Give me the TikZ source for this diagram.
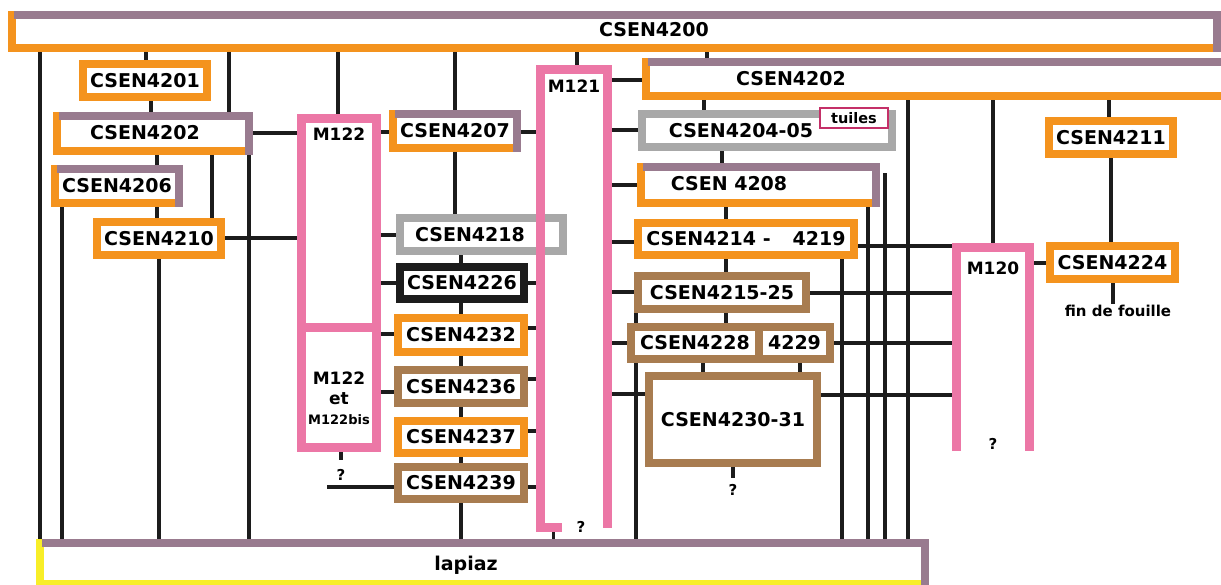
\documentclass[tikz,border=0pt]{standalone}
\usepackage{fontspec}
\setmainfont{DejaVu Sans}
\usepackage{tikz}
\usetikzlibrary{backgrounds}
\definecolor{csorange}{RGB}{244,147,30}
\definecolor{csmauve}{RGB}{153,123,143}
\definecolor{cspink}{RGB}{236,119,166}
\definecolor{csgrey}{RGB}{168,168,168}
\definecolor{csbrown}{RGB}{168,124,80}
\definecolor{csblack}{RGB}{28,28,28}
\definecolor{cscrimson}{RGB}{196,48,104}
\definecolor{csyellow}{RGB}{248,238,40}
\newcommand{\boxfont}{\fontsize{19}{22}\selectfont\bfseries}
\newcommand{\mfont}{\fontsize{17}{20}\selectfont\bfseries}
\newcommand{\qfont}{\fontsize{15}{18}\selectfont\bfseries}
% mauve top and right edge over a framed box
\newcommand{\mauveedge}[1]{\draw[csmauve, line width=8pt] ([xshift=2pt]#1.north west) -- (#1.north east) -- ([yshift=-4pt]#1.south east);}
\tikzset{
  csbox/.style={draw, line width=8pt, fill=white, inner sep=0pt, outer sep=0pt, font=\boxfont},
  orangebox/.style={csbox, draw=csorange},
  brownbox/.style={csbox, draw=csbrown},
  greybox/.style={csbox, draw=csgrey},
  blackbox/.style={csbox, draw=csblack},
  pinkbox/.style={csbox, draw=cspink, line width=9pt},
  boxsize/.style 2 args={minimum width=#1pt, minimum height=#2pt},
  link/.style={csblack, line width=3.5pt},
  pinkline/.style={cspink, line width=9pt},
  mlabel/.style={font=\mfont, inner sep=1pt},
  qlabel/.style={font=\qfont, inner sep=1pt},
}

\begin{document}
\begin{tikzpicture}[x=1pt, y=-1pt]
  \useasboundingbox (0,0) rectangle (1221,584);

  % Top and bottom layers
  \node[orangebox, boxsize={1205}{33}] (b4200) at (614.5,31.5) {};
  \node[csbox, draw=csyellow, boxsize={885}{41}] (lapiaz) at (482.5,563.5) {};

  % Left column
  \node[orangebox, boxsize={124}{33}] (b4201) at (145,80.5) {CSEN4201};
  \node[orangebox, boxsize={192}{35}] (b4202a) at (153,133.5) {};
  \node[orangebox, boxsize={124}{34}] (b4206) at (117,186) {CSEN4206};
  \node[orangebox, boxsize={124}{33}] (b4210) at (159,238.5) {CSEN4210};

  % M122
  \node[pinkbox, boxsize={75}{208.5}] (m122) at (339,222.75) {};
  \node[pinkbox, boxsize={75}{120.5}] (m122b) at (339,387.25) {};

  % Middle column
  \node[orangebox, boxsize={124}{34}] (b4207) at (455,131) {CSEN4207};
  \node[greybox, boxsize={163}{33}] (b4218) at (481.5,234.5) {};
  \node[blackbox, boxsize={124}{32}] (b4226) at (462,283) {CSEN4226};
  \node[orangebox, boxsize={126}{34}] (b4232) at (461,335) {CSEN4232};
  \node[brownbox, boxsize={126}{33}] (b4236) at (461,386.5) {CSEN4236};
  \node[orangebox, boxsize={126}{32}] (b4237) at (461,437) {CSEN4237};
  \node[brownbox, boxsize={126}{32}] (b4239) at (461,483) {CSEN4239};

  % M121 and M120 (open at the bottom)
  \node[boxsize={67}{458.5}, inner sep=0pt, outer sep=0pt] (m121) at (574,298.75) {};
  \node[boxsize={73}{203.5}, inner sep=0pt, outer sep=0pt] (m120) at (993,349.25) {};

  % Right column
  \node[orangebox, boxsize={600}{34}] (b4202b) at (946,79) {};
  \node[greybox, boxsize={250}{33}] (b4204) at (767,130.5) {};
  \node[orangebox, boxsize={235}{36}] (b4208) at (758.5,185) {};
  \node[orangebox, boxsize={216}{32}] (b4214) at (746,239) {CSEN4214 -\hspace{22pt}4219};
  \node[brownbox, boxsize={168}{33}] (b4215) at (722,292.5) {CSEN4215-25};
  \node[brownbox, boxsize={128}{32}] (b4228) at (695,343) {CSEN4228};
  \node[brownbox, boxsize={71}{32}] (b4229) at (794.5,343) {4229};
  \node[brownbox, boxsize={168}{87}] (b4230) at (733,419.5) {CSEN4230-31};
  \node[orangebox, boxsize={124}{33}] (b4211) at (1111,137.5) {CSEN4211};
  \node[orangebox, boxsize={125}{33}] (b4224) at (1112.5,262.5) {CSEN4224};

  % Two-colour frames
  \foreach \b in {b4200, b4202a, b4206, b4207, b4202b, b4208, lapiaz}
    {\mauveedge{\b}}

  \node[draw=cscrimson, line width=1.5pt, fill=white, boxsize={68}{20}, inner sep=0pt,
        font=\fontsize{14.5}{16}\selectfont\bfseries] (tuiles) at (854,118) {tuiles};

  % Off-centre labels
  \node[font=\boxfont] (t4200) at (654,30) {CSEN4200};
  \node[font=\boxfont] (t4202a) at (145,133) {CSEN4202};
  \node[font=\boxfont] (t4218) at (470,235) {CSEN4218};
  \node[font=\boxfont] (t4202b) at (791,79) {CSEN4202};
  \node[font=\boxfont] (t4204) at (741,131) {CSEN4204-05};
  \node[font=\boxfont] (t4208) at (729,184) {CSEN 4208};
  \node[font=\boxfont] (tlap) at (466,565) {lapiaz};
  \node[mlabel] (t122) at (339,134) {M122};
  \node[mlabel, align=center] (t122b) at (339,398) {M122\\et\\{\fontsize{13}{15}\selectfont M122bis}};
  \node[mlabel] (t121) at (574,86) {M121};
  \node[mlabel] (t120) at (993,268) {M120};
  \node[qlabel] (q122) at (341,475) {?};
  \node[qlabel] (q121) at (581,527) {?};
  \node[qlabel] (q4230) at (733,490) {?};
  \node[qlabel] (q120) at (993,444) {?};
  \node[qlabel] (fin) at (1118,311) {fin de fouille};

  % M121 and M120 frames
  \draw[pinkline] ([yshift=-4pt]m121.south west) -- (m121.north west) -- (m121.north east) -- (m121.south east);
  \fill[cspink] ([xshift=-4.5pt,yshift=5pt]m121.south west) rectangle ([xshift=21pt,yshift=-4pt]m121.south west);
  \draw[pinkline] (m120.south west) -- (m120.north west) -- (m120.north east) -- (m120.south east);

  \coordinate (f121) at ([xshift=13pt,yshift=-4pt]m121.south west);
  \coordinate (top885) at (885,173);
  \coordinate (end4239) at (327,487);

  % Connectors
  \begin{scope}[on background layer]
    \foreach \a/\b/\x in {b4200/lapiaz/40, b4200/b4201/146, b4200/b4202a/229, b4200/m122/338,
        b4200/b4207/455, b4200/m121/577, b4200/b4202b/707, b4201/b4202a/151,
        b4202a/b4206/157, b4202a/b4210/212, b4202a/lapiaz/249, b4206/lapiaz/62,
        b4206/b4210/157, b4210/lapiaz/159, b4207/b4218/455, b4218/lapiaz/461,
        b4202b/b4204/704, b4204/b4208/722, b4208/b4228/726, b4215/lapiaz/636,
        b4214/lapiaz/842, b4208/lapiaz/868, b4202b/lapiaz/908, b4228/b4230/703,
        b4229/b4230/800, b4202b/m120/993, b4202b/b4211/1109, b4211/b4224/1111}
      {\draw[link] (\a.south -| \x,0) -- (\b.north -| \x,0);}

    \foreach \a/\b/\y in {b4202a/m122/133, b4210/m122/238, m122/b4207/132, b4207/m121/132,
        m122/b4218/235, m122/b4226/283, b4226/m121/283, m122b/b4232/334,
        b4232/m121/328, m122b/b4236/392, b4236/m121/379, b4237/m121/431,
        b4239/m121/487, m121/b4202b/80, m121/b4204/130, m121/b4208/185,
        m121/b4214/242, m121/b4215/292, m121/b4228/343, m121/b4230/394,
        b4214/m120/246, b4215/m120/293, b4229/m120/343, b4230/m120/395,
        m120/b4224/263}
      {\draw[link] (\a.east |- 0,\y) -- (\b.west |- 0,\y);}

    \draw[link] (b4239.west |- end4239) -- (end4239);
    \draw[link] (top885) -- (top885 |- lapiaz.north);
    \draw[link] (f121) -- (f121 |- lapiaz.north);
    \draw[link] (m122b.south -| q122) -- ([yshift=8pt]q122.north);
    \draw[link] (b4230.south -| q4230) -- ([yshift=5pt]q4230.north);
    \draw[link] (b4224.south -| 1113,0) -- (fin.north -| 1113,0);
  \end{scope}
\end{tikzpicture}
\end{document}
